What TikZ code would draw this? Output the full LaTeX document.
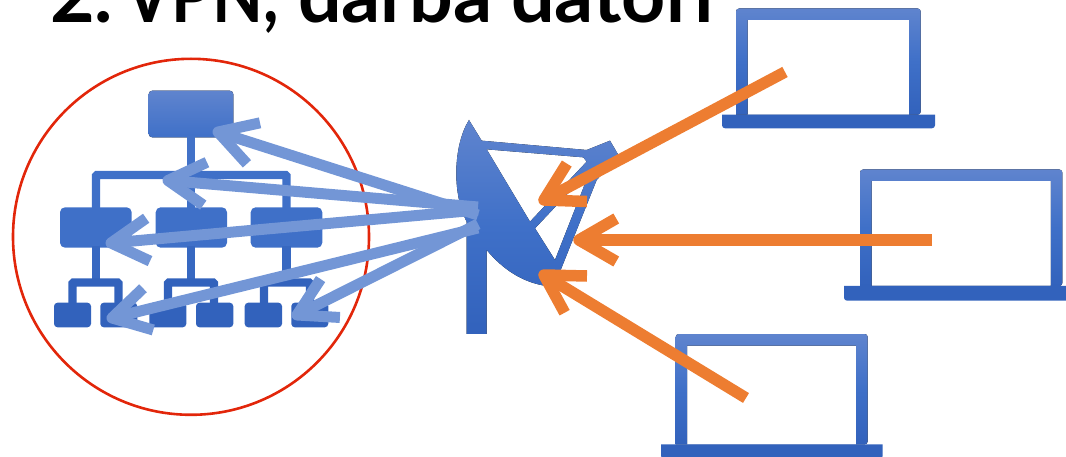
\documentclass[tikz,border=0pt]{standalone}
\usepackage{fontspec}
\usepackage{graphicx}
\setmainfont{Lato}
\usetikzlibrary{calc}
\definecolor{bluetop}{HTML}{5F84CE}
\definecolor{bluemid}{HTML}{3F70C8}
\definecolor{bluebot}{HTML}{3262BC}
\definecolor{lightarrow}{HTML}{7396D6}
\definecolor{orangearrow}{HTML}{ED7D31}
\definecolor{redring}{HTML}{E2260A}
\tikzset{
  x=1pt,y=-1pt,
  iconfill/.style={top color=bluetop,bottom color=bluebot,middle color=bluemid,draw=none},
  solid blue/.style={fill=bluemid,draw=none},
  solid low/.style={fill=bluebot,draw=none},
  lbar/.style={line width=8.2pt,line join=miter},
  inarrow/.style={draw=lightarrow,line width=11pt,line cap=butt,line join=round},
  outarrow/.style={draw=orangearrow,line width=11.5pt,line cap=butt,line join=round},
  ring/.style={draw=redring,line width=2.6pt},
  headline/.style={font=\bfseries\fontsize{77}{77}\selectfont,text=black,anchor=base west,inner sep=0pt}
}
% frame x0,x1,top,inner bottom,base x0,x1,base height
\newcommand{\laptop}[7]{%
  \fill[iconfill,even odd rule]
    [rounded corners=3pt] (#1,#4) -- (#1,#3) -- (#2,#3) -- (#2,#4) [sharp corners] -- cycle
    (#1+11.5,#3+11.5) rectangle (#2-11.5,#4);
  \fill[solid low] (#5,#4) -- (#6,#4) [rounded corners=3pt] -- (#6,#4+#7) -- (#5,#4+#7) [sharp corners] -- cycle;
}
% style, tail coordinate, tip coordinate
\newcommand{\barbed}[3]{%
  \draw[#1] (#2) -- (#3);
  \draw[#1] ($(#3)!43pt!30:(#2)$) -- (#3) -- ($(#3)!43pt!-30:(#2)$);
}
\begin{document}
\begin{tikzpicture}
\path[use as bounding box] (0,0) rectangle (1066,457);
\begin{scope}
\clip (0,0) rectangle (1066,457);
\node[headline] (title) at (50,23) {2.\kern-6pt\ \scalebox{.86}[1]{VPN,} darba datori};

% laptops
\laptop{736}{920.7}{8.5}{114.7}{722}{935}{13.6}
\laptop{860}{1062.3}{169.5}{286}{844}{1070}{14.7}
\laptop{675.7}{867.7}{334}{444.3}{661}{882.7}{14.5}

% org chart
\fill[top color=bluetop,bottom color=bluemid,rounded corners=3.5pt] (148.7,90.7) rectangle (233.3,137.3);
\fill[bluemid!92!bluetop] (187.1,136) rectangle (195.3,171);
\draw[lbar,draw=bluemid,rounded corners=1pt] (96,212) -- (96,175) -- (286.5,175) -- (286.5,212);
\draw[lbar,draw=bluemid] (191,175) -- (191,212);
\foreach \xa/\xb in {60/131.7,155.7/227,250.7/322.3}{
  \fill[solid blue,rounded corners=5pt] (\xa,207.3) rectangle (\xb,247.7);
}
\foreach \xm/\xl/\xr in {96/72.5/118.5,191/168/214,286.5/264/310}{
  \draw[lbar,draw=bluebot!60!bluemid] (\xm,246) -- (\xm,283);
  \draw[lbar,draw=bluebot,rounded corners=1pt] (\xl,305) -- (\xl,282.5) -- (\xr,282.5) -- (\xr,305);
}
\foreach \xa/\xb in {54/91,100.3/137.3,149.3/186.3,196/233.3,244.7/282,291.3/328.3}{
  \fill[solid low,rounded corners=3.5pt] (\xa,302.7) rectangle (\xb,327.3);
}

% ring
\node[ring,circle,minimum size=356pt,inner sep=0pt] (net) at (191,236.8) {};

% dish
\begin{scope}[shift={(440,100)},x=0.3333pt,y=-0.3333pt]
\fill[iconfill,even odd rule]
  (87,60) .. controls (40,135) and (35,280) .. (80,365)
  -- (80,702) -- (140,702) -- (140,450)
  .. controls (190,510) and (250,548) .. (320,558)
  -- (350,540) -- (470,240) -- (537,168) -- (510,122) -- (440,150) -- (125,122) -- cycle
  (140,148) -- (430,172) -- (440,185) -- (270,365) -- cycle
  (285,385) -- (452,208) -- (345,480) -- cycle;
\end{scope}
\end{scope}

% light arrows
\coordinate (s1) at (478,215);
\coordinate (s2) at (478,207);
\coordinate (s3) at (478,210);
\coordinate (s4) at (478,228);
\coordinate (s5) at (478,224);
\coordinate (a1) at (218,132);
\coordinate (a2) at (168,180.5);
\coordinate (a3) at (111,243);
\coordinate (a4) at (112,318);
\coordinate (a5) at (297,315);
\barbed{inarrow}{s1}{a1}
\barbed{inarrow}{s2}{a2}
\barbed{inarrow}{s3}{a3}
\barbed{inarrow}{s4}{a4}
\barbed{inarrow}{s5}{a5}

% orange arrows
\coordinate (l1) at (785,72);
\coordinate (l2) at (932,240);
\coordinate (l3) at (746,398);
\coordinate (t1) at (544,200);
\coordinate (t2) at (579,240);
\coordinate (t3) at (544,275);
\barbed{outarrow}{l1}{t1}
\barbed{outarrow}{l2}{t2}
\barbed{outarrow}{l3}{t3}
\end{tikzpicture}
\end{document}
